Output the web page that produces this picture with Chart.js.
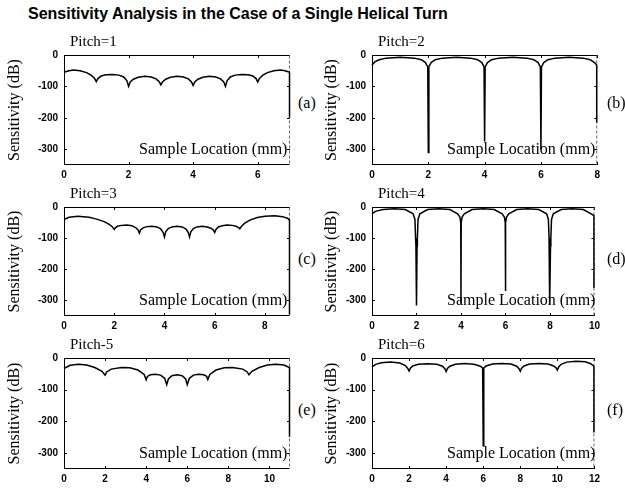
<!DOCTYPE html>
<html>
<head>
<meta charset="utf-8">
<script src="https://cdn.jsdelivr.net/npm/chart.js@4.4.1/dist/chart.umd.min.js"></script>
<style>
  body { margin: 0; background: #fff; }
  #wrap { position: relative; width: 625px; height: 489px; overflow: hidden; background: #fff; }
  #wrap canvas { position: absolute; }
  .txt { position: absolute; white-space: nowrap; color: #000; line-height: 1; font-family: "Liberation Serif", "Times New Roman", serif; }
  #title { left: 28px; top: 5px; font: bold 16px "Liberation Sans", Arial, sans-serif; }
</style>
</head>
<body>
<div id="wrap">
  <div id="title" class="txt">Sensitivity Analysis in the Case of a Single Helical Turn</div>
</div>
<script>
// --- dados (x em mm, y em dB) ---
const yTicks = [0, -100, -200, -300];

// (a) Pitch=1
const pitch1X = [0, 0.15, 0.3, 0.5, 0.7, 0.85, 0.95, 1,
  1.05, 1.15, 1.3, 1.5, 1.7, 1.85, 1.95, 2,
  2.05, 2.15, 2.3, 2.5, 2.7, 2.85, 2.95, 3,
  3.05, 3.15, 3.3, 3.5, 3.7, 3.85, 3.95, 4,
  4.05, 4.15, 4.3, 4.5, 4.7, 4.85, 4.95, 5,
  5.05, 5.15, 5.3, 5.5, 5.7, 5.85, 5.95, 6,
  6.05, 6.15, 6.3, 6.5, 6.7, 6.85, 6.985, 6.985];
const pitch1Y = [-55, -50, -48, -50, -56, -65, -75, -85,
  -75, -67, -63, -62, -64, -70, -82, -100,
  -86, -77, -71, -68, -70, -76, -85, -95,
  -86, -77, -71, -68, -70, -76, -86, -97,
  -86, -77, -71, -68, -70, -76, -86, -100,
  -82, -70, -64, -62, -63, -67, -75, -86,
  -75, -65, -56, -50, -48, -50, -55, -200];
const pitch1Ticks = [0, 2, 4, 6];

// (b) Pitch=2
const pitch2X = [0, 0.1, 0.25, 0.5, 1, 1.5, 1.75, 1.9, 1.98, 2,
  2.02, 2.1, 2.25, 2.5, 3, 3.5, 3.75, 3.9, 3.98, 4,
  4.02, 4.1, 4.25, 4.5, 5, 5.5, 5.75, 5.9, 5.98, 6,
  6.02, 6.1, 6.25, 6.5, 7, 7.5, 7.75, 7.9, 7.982, 7.982];
const pitch2Y = [-32, -22, -15, -10, -7, -10, -15, -24, -38, -310,
  -38, -24, -15, -10, -7, -10, -15, -24, -38, -275,
  -38, -24, -15, -10, -7, -10, -15, -24, -38, -300,
  -38, -24, -15, -10, -7, -10, -15, -24, -32, -215];
const pitch2Ticks = [0, 2, 4, 6, 8];

// (c) Pitch=3
const pitch3X = [0, 0.2, 0.55, 1, 1.3, 1.6, 1.8, 1.93, 2,
  2.05, 2.15, 2.3, 2.5, 2.7, 2.85, 2.95, 3,
  3.05, 3.15, 3.3, 3.5, 3.7, 3.85, 3.95, 4,
  4.05, 4.15, 4.3, 4.5, 4.7, 4.85, 4.95, 5,
  5.05, 5.15, 5.3, 5.5, 5.7, 5.85, 5.95, 6,
  6.05, 6.15, 6.3, 6.5, 6.7, 6.85, 6.95, 7,
  7.07, 7.2, 7.4, 7.7, 8.0, 8.4, 8.7, 8.9, 8.98, 8.98];
const pitch3Y = [-40, -33, -30, -33, -39, -47, -56, -64, -72,
  -66, -61, -59, -58, -60, -66, -74, -84,
  -74, -67, -63, -62, -64, -70, -82, -96,
  -80, -69, -64, -62, -64, -70, -82, -96,
  -80, -69, -64, -62, -64, -68, -74, -82,
  -72, -64, -60, -58, -59, -62, -66, -70,
  -62, -52, -42, -34, -30, -28, -31, -36, -42, -345];
const pitch3Ticks = [0, 2, 4, 6, 8];

// (d) Pitch=4
const pitch4X = [0, 0.15, 0.5, 1, 1.5, 1.85, 1.93, 1.96, 1.975, 2,
  2.025, 2.04, 2.07, 2.15, 2.5, 3, 3.5, 3.85, 3.95, 3.99, 4,
  4.01, 4.05, 4.15, 4.5, 5, 5.5, 5.85, 5.95, 5.99, 6,
  6.01, 6.05, 6.15, 6.5, 7, 7.5, 7.85, 7.93, 7.96, 7.975, 8,
  8.025, 8.04, 8.07, 8.15, 8.5, 9, 9.5, 9.85, 9.978, 9.978];
const pitch4Y = [-22, -14, -8, -6, -8, -22, -40, -100, -125, -316,
  -125, -100, -40, -22, -8, -6, -8, -22, -32, -50, -310,
  -50, -32, -22, -8, -6, -8, -22, -32, -50, -270,
  -50, -32, -22, -8, -6, -8, -22, -40, -100, -125, -315,
  -125, -100, -40, -22, -8, -6, -8, -22, -28, -260];
const pitch4Ticks = [0, 2, 4, 6, 8, 10];

// (e) Pitch-5
const pitch5X = [0, 0.3, 0.7, 1.1, 1.5, 1.85, 2,
  2.08, 2.3, 2.8, 3.2, 3.6, 3.9, 4,
  4.06, 4.2, 4.45, 4.7, 4.9, 5,
  5.08, 5.25, 5.5, 5.75, 5.92, 6,
  6.1, 6.3, 6.55, 6.8, 6.94, 7,
  7.1, 7.4, 7.8, 8.2, 8.7, 8.92, 9,
  9.15, 9.5, 9.9, 10.3, 10.7, 10.976, 10.976];
const pitch5Y = [-33, -23, -20, -22, -30, -42, -54,
  -44, -35, -30, -31, -38, -52, -69,
  -58, -53, -51, -54, -64, -84,
  -66, -56, -53, -56, -66, -84,
  -64, -54, -51, -53, -58, -68,
  -52, -38, -31, -30, -35, -44, -53,
  -42, -30, -22, -20, -22, -30, -248];
const pitch5Ticks = [0, 2, 4, 6, 8, 10];

// (f) Pitch=6
const pitch6X = [0, 0.2, 0.5, 1, 1.5, 1.8, 1.93, 2,
  2.07, 2.2, 2.5, 3, 3.5, 3.8, 3.93, 4,
  4.07, 4.2, 4.5, 5, 5.5, 5.85, 5.97, 6,
  6.03, 6.15, 6.5, 7, 7.5, 7.8, 7.93, 8,
  8.07, 8.2, 8.5, 9, 9.5, 9.8, 9.93, 10,
  10.07, 10.2, 10.5, 11, 11.5, 11.8, 11.973, 11.973];
const pitch6Y = [-28, -20, -15, -13, -16, -24, -33, -41,
  -32, -25, -20, -18, -20, -26, -34, -43,
  -33, -26, -20, -17, -20, -26, -32, -277,
  -32, -25, -19, -17, -19, -26, -34, -42,
  -32, -25, -19, -17, -19, -25, -31, -38,
  -28, -20, -13, -10, -12, -18, -26, -235];
const pitch6Ticks = [0, 2, 4, 6, 8, 10, 12];

// --- disposição dos painéis (px) ---
const ROW_TOP = [51, 203, 354];
const ROW_BOTTOM = [165, 316, 469];
const COL_LEFT = [64, 372];
const COL_RIGHT = [290, 598];
const Y_AXIS_W = [59, 50];
const PAD_TOP = 8, PAD_RIGHT = 6, X_AXIS_H = 22;
const LETTER_X = [298, 607];
const LETTER_Y = [95, 251, 402];

const panels = [
  { tag: '(a)', pitch: 'Pitch=1', xs: pitch1X, ys: pitch1Y, xMax: 7, xTicks: pitch1Ticks, row: 0, col: 0 },
  { tag: '(b)', pitch: 'Pitch=2', xs: pitch2X, ys: pitch2Y, xMax: 8, xTicks: pitch2Ticks, row: 0, col: 1 },
  { tag: '(c)', pitch: 'Pitch=3', xs: pitch3X, ys: pitch3Y, xMax: 9, xTicks: pitch3Ticks, row: 1, col: 0 },
  { tag: '(d)', pitch: 'Pitch=4', xs: pitch4X, ys: pitch4Y, xMax: 10, xTicks: pitch4Ticks, row: 1, col: 1 },
  { tag: '(e)', pitch: 'Pitch-5', xs: pitch5X, ys: pitch5Y, xMax: 11, xTicks: pitch5Ticks, row: 2, col: 0 },
  { tag: '(f)', pitch: 'Pitch=6', xs: pitch6X, ys: pitch6Y, xMax: 12, xTicks: pitch6Ticks, row: 2, col: 1 }
];

// moldura (lado direito tracejado, como no original digitalizado) e marcas para dentro
const framePlugin = {
  id: 'frame',
  beforeDatasetsDraw(chart) {
    const { ctx, chartArea: a, scales: { x, y } } = chart;
    const L = a.left + 0.5, R = a.right - 0.5, T = a.top + 0.5, B = a.bottom - 0.5;
    ctx.save();
    ctx.strokeStyle = '#000';
    ctx.lineWidth = 1;
    ctx.beginPath();
    ctx.moveTo(R, T); ctx.lineTo(L, T); ctx.lineTo(L, B); ctx.lineTo(R, B);
    x.ticks.forEach(t => {
      const px = Math.round(x.getPixelForValue(t.value)) + 0.5;
      ctx.moveTo(px, a.bottom); ctx.lineTo(px, a.bottom - 3);
      ctx.moveTo(px, a.top); ctx.lineTo(px, a.top + 3);
    });
    y.ticks.forEach(t => {
      const py = Math.round(y.getPixelForValue(t.value)) + 0.5;
      ctx.moveTo(a.left, py); ctx.lineTo(a.left + 3, py);
      ctx.moveTo(a.right, py); ctx.lineTo(a.right - 3, py);
    });
    ctx.stroke();
    ctx.strokeStyle = '#666';
    ctx.setLineDash([3, 2]);
    ctx.beginPath();
    ctx.moveTo(R, T); ctx.lineTo(R, B);
    ctx.stroke();
    ctx.restore();
  }
};

const wrap = document.getElementById('wrap');
const tickFont = { family: '"Liberation Sans", Arial, sans-serif', size: 10, weight: 'bold' };

function addText(text, left, top, size) {
  const d = document.createElement('div');
  d.className = 'txt';
  d.textContent = text;
  d.style.left = left + 'px';
  d.style.top = top + 'px';
  d.style.fontSize = size + 'px';
  wrap.appendChild(d);
  return d;
}

panels.forEach(p => {
  const plotL = COL_LEFT[p.col], plotR = COL_RIGHT[p.col];
  const plotT = ROW_TOP[p.row], plotB = ROW_BOTTOM[p.row];
  const yW = Y_AXIS_W[p.col];

  const canvas = document.createElement('canvas');
  canvas.width = yW + (plotR - plotL) + PAD_RIGHT;
  canvas.height = PAD_TOP + (plotB - plotT) + X_AXIS_H;
  canvas.style.left = (plotL - yW) + 'px';
  canvas.style.top = (plotT - PAD_TOP) + 'px';
  wrap.appendChild(canvas);

  new Chart(canvas, {
    type: 'line',
    data: {
      datasets: [{
        data: p.xs.map((x, i) => ({ x: x, y: p.ys[i] })),
        borderColor: '#000',
        borderWidth: 1.5,
        pointRadius: 0,
        fill: false,
        clip: false,
        tension: 0
      }]
    },
    options: {
      responsive: false,
      animation: false,
      events: [],
      layout: { padding: { top: PAD_TOP, right: PAD_RIGHT, left: 0, bottom: 0 } },
      plugins: { legend: { display: false }, tooltip: { enabled: false } },
      scales: {
        x: {
          type: 'linear',
          min: 0,
          max: p.xMax,
          afterBuildTicks: s => { s.ticks = p.xTicks.map(v => ({ value: v })); },
          afterFit: s => { s.height = X_AXIS_H; },
          grid: { display: false, drawTicks: false },
          border: { display: false },
          ticks: { color: '#000', font: tickFont, padding: 4, maxRotation: 0, autoSkip: false }
        },
        y: {
          min: -350,
          max: 0,
          afterBuildTicks: s => { s.ticks = yTicks.map(v => ({ value: v })); },
          afterFit: s => { s.width = yW; },
          grid: { display: false, drawTicks: false },
          border: { display: false },
          title: {
            display: true,
            text: 'Sensitivity (dB)',
            color: '#000',
            padding: 0,
            font: { family: '"Liberation Serif", "Times New Roman", serif', size: 16 }
          },
          ticks: { color: '#000', font: tickFont, padding: 6 }
        }
      }
    },
    plugins: [framePlugin]
  });

  addText(p.pitch, plotL + 6, plotT - 17, 15);
  const s = addText('Sample Location (mm)', 0, plotB - 24, 16);
  s.style.left = (plotR - 3 - s.offsetWidth) + 'px';
  addText(p.tag, LETTER_X[p.col], LETTER_Y[p.row], 16);
});
</script>
</body>
</html>
